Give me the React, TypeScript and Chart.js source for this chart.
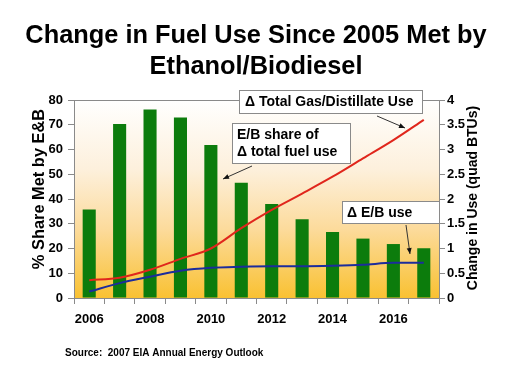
import React, { useEffect, useRef } from 'react';
import { Chart, registerables } from 'chart.js';

Chart.register(...registerables);

const years = ['2006', '2007', '2008', '2009', '2010', '2011', '2012', '2013', '2014', '2015', '2016', '2017'];
const shareEB = [35.8, 70.3, 76.2, 72.9, 61.8, 46.6, 38.0, 31.8, 26.7, 24.0, 21.8, 20.1];
const totalGasDistillate = [0.36, 0.41, 0.57, 0.79, 1.0, 1.41, 1.78, 2.11, 2.45, 2.82, 3.19, 3.6];
const ebUse = [0.13, 0.3, 0.43, 0.55, 0.61, 0.63, 0.64, 0.64, 0.65, 0.67, 0.71, 0.71];
const shownYearLabels = ['2006', '2008', '2010', '2012', '2014', '2016'];

const titleLines = ['Change in Fuel Use Since 2005 Met by', 'Ethanol/Biodiesel'];
const leftAxisTitle = '% Share Met by E&B';
const rightAxisTitle = 'Change in Use (quad BTUs)';
const sourceText = 'Source:  2007 EIA Annual Energy Outlook';
const noteTotal = ['\u0394 Total Gas/Distillate Use'];
const noteShare = ['E/B share of', '\u0394 total fuel use'];
const noteEB = ['\u0394 E/B use'];

const FONT = 'Arial, "Liberation Sans", sans-serif';

function drawArrow(ctx: CanvasRenderingContext2D, x1: number, y1: number, x2: number, y2: number) {
  ctx.save();
  ctx.strokeStyle = '#333';
  ctx.fillStyle = '#111';
  ctx.lineWidth = 1;
  ctx.beginPath();
  ctx.moveTo(x1, y1);
  ctx.lineTo(x2, y2);
  ctx.stroke();
  const a = Math.atan2(y2 - y1, x2 - x1);
  const L = 6, W = 2.5;
  ctx.beginPath();
  ctx.moveTo(x2, y2);
  ctx.lineTo(x2 - L * Math.cos(a) + W * Math.sin(a), y2 - L * Math.sin(a) - W * Math.cos(a));
  ctx.lineTo(x2 - L * Math.cos(a) - W * Math.sin(a), y2 - L * Math.sin(a) + W * Math.cos(a));
  ctx.closePath();
  ctx.fill();
  ctx.restore();
}

function drawNote(ctx: CanvasRenderingContext2D, lines: string[], x: number, y: number, w: number, h: number, tx: number) {
  ctx.save();
  ctx.fillStyle = '#ffffff';
  ctx.fillRect(x, y, w, h);
  ctx.strokeStyle = '#8a8a8a';
  ctx.lineWidth = 1;
  ctx.strokeRect(x + 0.5, y + 0.5, w, h);
  ctx.fillStyle = '#000';
  ctx.font = `bold 14px ${FONT}`;
  ctx.textAlign = 'left';
  ctx.textBaseline = 'middle';
  const lh = 17;
  const startY = y + h / 2 - ((lines.length - 1) * lh) / 2;
  lines.forEach((l, i) => ctx.fillText(l, tx, startY + i * lh + 1));
  ctx.restore();
}

const decorPlugin = {
  id: 'decor',
  beforeDraw(chart: any) {
    const { ctx, chartArea: a } = chart;
    ctx.save();
    ctx.fillStyle = '#ffffff';
    ctx.fillRect(0, 0, chart.width, chart.height);
    const g = ctx.createLinearGradient(0, a.top, 0, a.bottom);
    g.addColorStop(0, '#ffffff');
    g.addColorStop(0.35, '#fdf0dc');
    g.addColorStop(0.65, '#fcdb9c');
    g.addColorStop(1, '#f9c132');
    ctx.fillStyle = g;
    ctx.fillRect(a.left, a.top, a.right - a.left, a.bottom - a.top);
    ctx.restore();
  },
  beforeDatasetsDraw(chart: any) {
    const { ctx, chartArea: a } = chart;
    ctx.save();
    ctx.strokeStyle = '#8a8a8a';
    ctx.lineWidth = 1;
    ctx.beginPath();
    ctx.moveTo(a.left, a.top + 0.5);
    ctx.lineTo(a.right, a.top + 0.5);
    ctx.stroke();
    ctx.restore();
  },
  afterDraw(chart: any) {
    const { ctx } = chart;
    ctx.save();
    ctx.fillStyle = '#000';
    ctx.textAlign = 'center';
    ctx.textBaseline = 'alphabetic';
    ctx.font = `bold 25.4px ${FONT}`;
    ctx.fillText(titleLines[0], 256, 43);
    ctx.fillText(titleLines[1], 256, 74);

    ctx.font = `bold 16.4px ${FONT}`;
    ctx.textBaseline = 'middle';
    ctx.save();
    ctx.translate(39, 189);
    ctx.rotate(-Math.PI / 2);
    ctx.fillText(leftAxisTitle, 0, 0);
    ctx.restore();
    ctx.save();
    ctx.translate(473, 198);
    ctx.rotate(-Math.PI / 2);
    ctx.font = `bold 14px ${FONT}`;
    ctx.fillText(rightAxisTitle, 0, 0);
    ctx.restore();

    ctx.font = `bold 10px ${FONT}`;
    ctx.textAlign = 'left';
    ctx.fillText(sourceText, 65, 353);
    ctx.restore();

    drawArrow(ctx, 377, 116, 405, 128);
    drawArrow(ctx, 252, 166, 223, 179);
    drawArrow(ctx, 406, 225, 410, 254);
    drawNote(ctx, noteTotal, 239, 90, 183, 23, 245);
    drawNote(ctx, noteShare, 232, 123, 118, 40, 237);
    drawNote(ctx, noteEB, 342, 201, 97, 22, 347);
  },
};

export default function App() {
  const ref = useRef<HTMLCanvasElement | null>(null);
  useEffect(() => {
    if (!ref.current) return;
    const chart = new Chart(ref.current, {
      type: 'bar',
      data: {
        labels: years,
        datasets: [
          {
            type: 'line',
            label: 'Total Gas/Distillate Use',
            data: totalGasDistillate,
            yAxisID: 'y1',
            borderColor: '#e0261c',
            borderWidth: 2,
            pointRadius: 0,
            tension: 0.4,
            cubicInterpolationMode: 'monotone',
            order: 1,
          } as any,
          {
            type: 'line',
            label: 'E/B use',
            data: ebUse,
            yAxisID: 'y1',
            borderColor: '#1c2c9c',
            borderWidth: 2,
            pointRadius: 0,
            tension: 0.4,
            cubicInterpolationMode: 'monotone',
            order: 0,
          } as any,
          {
            type: 'bar',
            label: 'E/B share',
            data: shareEB,
            yAxisID: 'y',
            backgroundColor: '#0c7c0c',
            barPercentage: 0.43,
            categoryPercentage: 1,
            order: 2,
          },
        ],
      },
      options: {
        responsive: false,
        animation: false,
        devicePixelRatio: 1,
        layout: { padding: { top: 100, left: 0, right: 0, bottom: 46 } },
        plugins: { legend: { display: false }, tooltip: { enabled: false }, title: { display: false } },
        scales: {
          x: {
            offset: true,
            grid: { offset: true, drawOnChartArea: false, tickLength: 6, color: '#8a8a8a' },
            border: { color: '#8a8a8a', width: 1 },
            ticks: {
              autoSkip: false,
              maxRotation: 0,
              padding: 8,
              color: '#000',
              font: { family: FONT, size: 13, weight: 'bold' },
              callback: (_v: any, i: number) => (shownYearLabels.includes(years[i]) ? years[i] : ''),
            },
            afterFit: (s: any) => { s.height = 40; },
          },
          y: {
            position: 'left',
            min: 0,
            max: 80,
            grid: { drawOnChartArea: false, tickLength: 6, color: '#8a8a8a' },
            border: { color: '#8a8a8a', width: 1 },
            ticks: { stepSize: 10, padding: 5, color: '#000', font: { family: FONT, size: 13, weight: 'bold' } },
            afterFit: (s: any) => { s.width = 74; },
          },
          y1: {
            position: 'right',
            min: 0,
            max: 4,
            grid: { drawOnChartArea: false, tickLength: 6, color: '#8a8a8a' },
            border: { color: '#8a8a8a', width: 1 },
            ticks: {
              stepSize: 0.5,
              padding: 2,
              color: '#000',
              font: { family: FONT, size: 13, weight: 'bold' },
              callback: (v: any) => String(Number(v)),
            },
            afterFit: (s: any) => { s.width = 73; },
          },
        },
      },
      plugins: [decorPlugin],
    });
    return () => chart.destroy();
  }, []);
  return (
    <div style={{ position: 'fixed', left: 0, top: 0, width: 512, height: 384, background: '#fff' }}>
      <canvas ref={ref} width={512} height={384} style={{ display: 'block', width: 512, height: 384 }} />
    </div>
  );
}
